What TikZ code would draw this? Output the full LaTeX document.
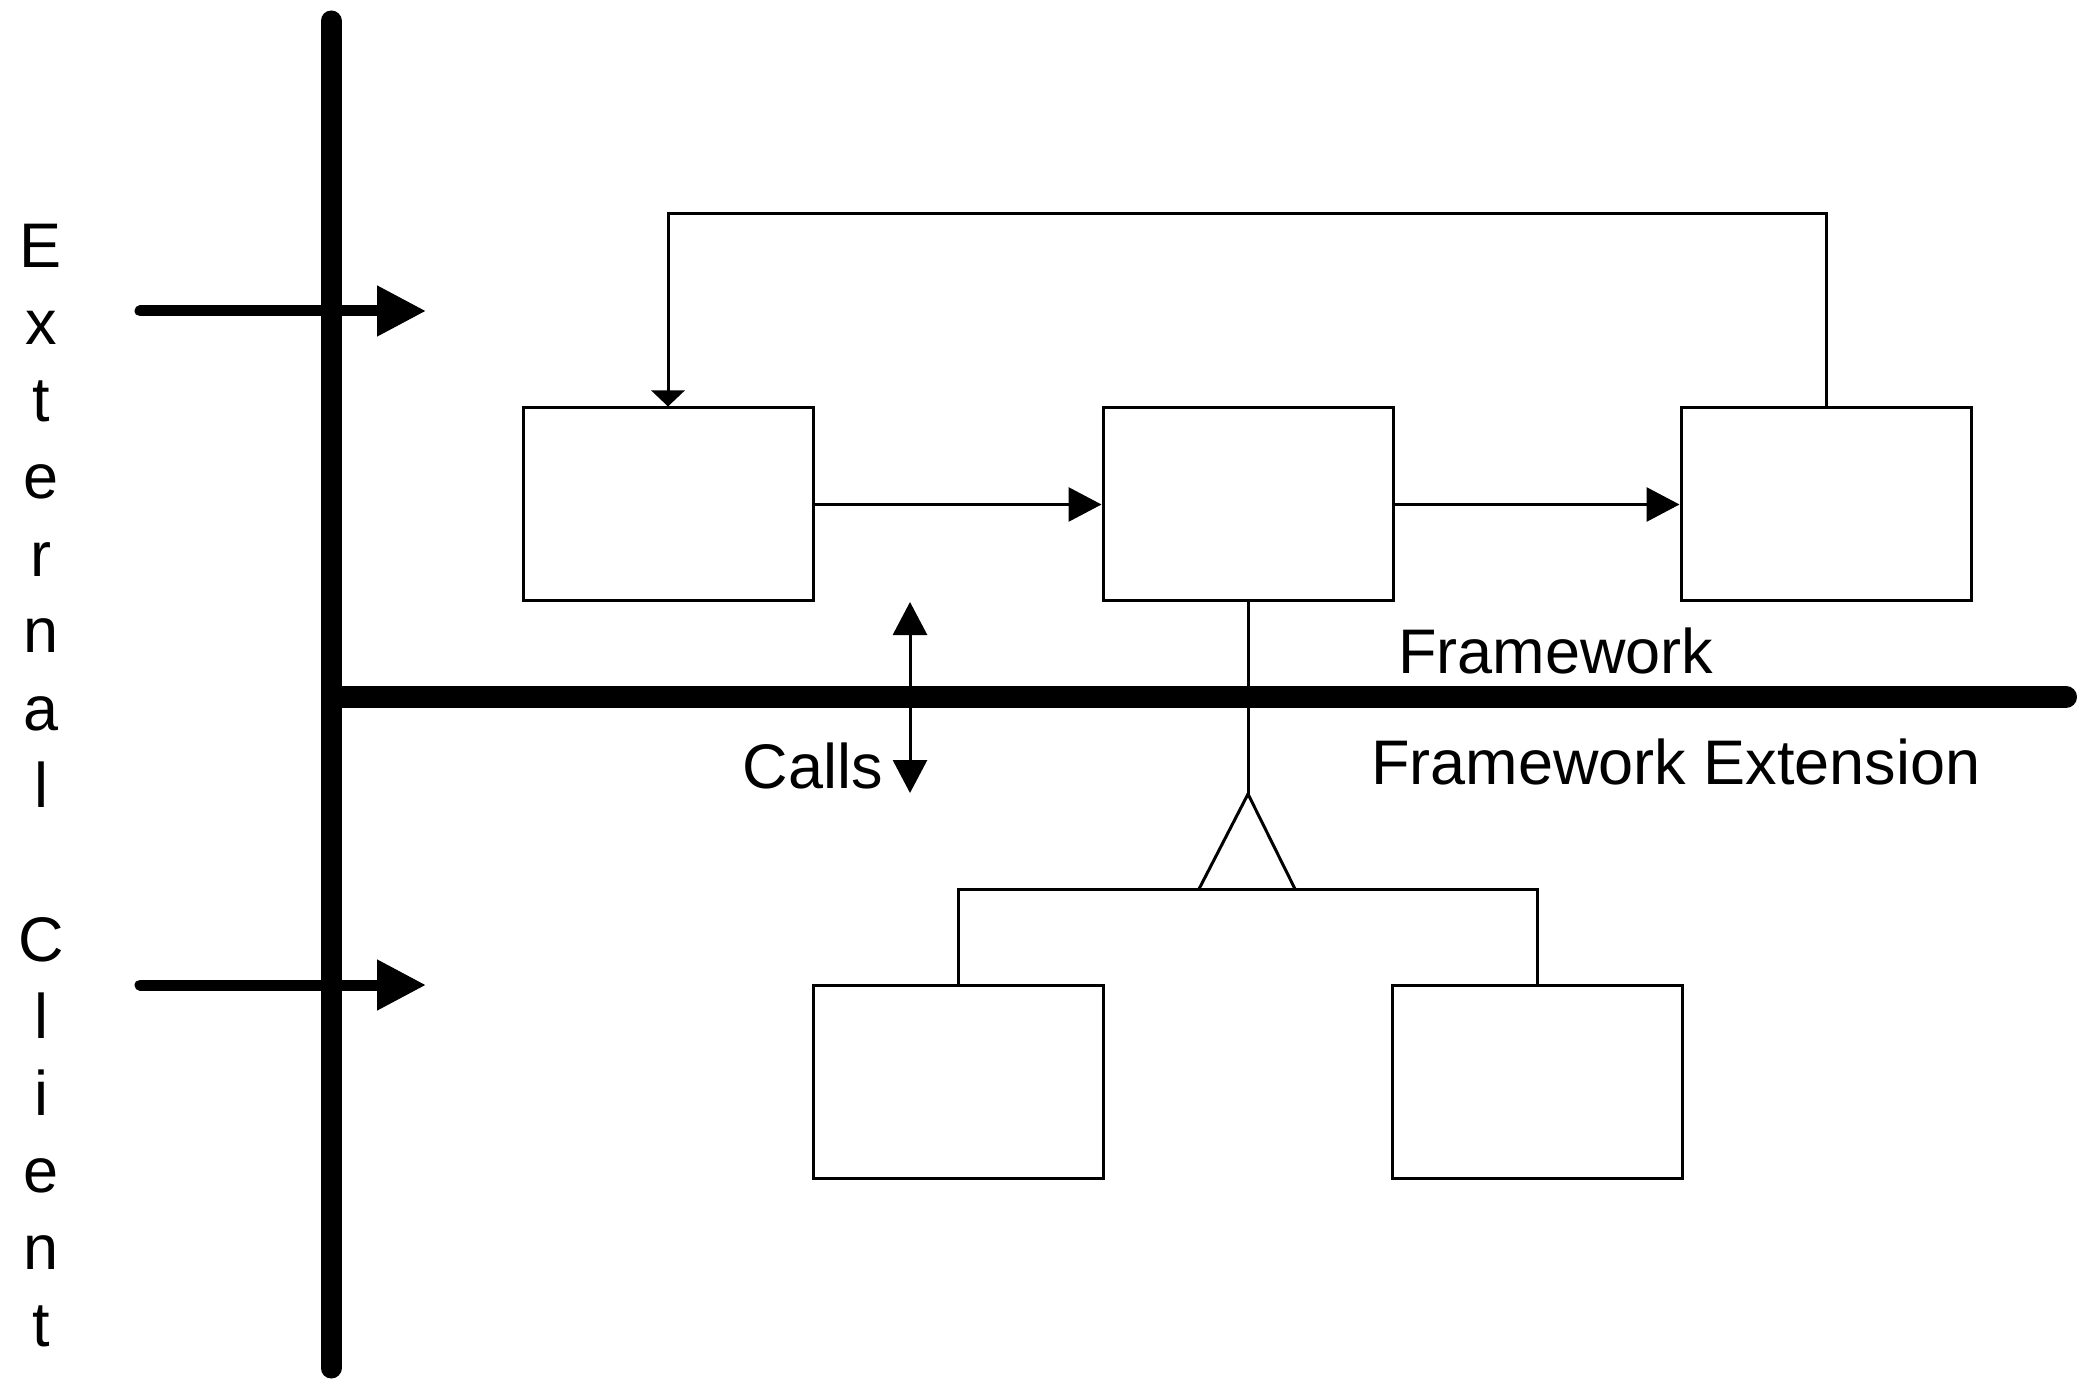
\documentclass[tikz,border=0pt]{standalone}
\usepackage{fontspec}
\setmainfont{Liberation Sans}
\usetikzlibrary{arrows.meta}
\begin{document}
\begin{tikzpicture}[x=0.5pt,y=-0.5pt,
  box/.style={draw, line width=1.5pt, minimum width=145pt, minimum height=96.5pt, inner sep=0pt},
  thinline/.style={line width=1.5pt},
  bigline/.style={line width=10.5pt, line cap=round},
  extarrow/.style={line width=5.5pt, line cap=round, -{Triangle[length=24.5pt,width=24pt]}},
  flowarrow/.style={thinline, -{Triangle[length=16.5pt,width=17pt]}},
  lbl/.style={font=\fontsize{31.5pt}{37pt}\selectfont, inner sep=0pt, anchor=base}]
\useasboundingbox (0,0) rectangle (2077,1379);
\fill[white] (0,0) rectangle (2077,1379);

% boxes
\node[box] (b1) at (668,504.5) {};
\node[box] (b2) at (1248,504.5) {};
\node[box] (b3) at (1826,504.5) {};
\node[box] (b4) at (958,1081.5) {};
\node[box] (b5) at (1537,1081.5) {};

% thick boundary lines
\coordinate (vtop) at (331,21);
\coordinate (vbot) at (331,1368);
\coordinate (hleft) at (336,697);
\coordinate (hright) at (2066,697);
\draw[bigline] (vtop) -- (vbot);
\draw[bigline, line width=11pt] (hleft) -- (hright);

% external client arrows
\coordinate (e1s) at (140,311); \coordinate (e1e) at (426,311);
\coordinate (e2s) at (140,985); \coordinate (e2e) at (426,985);
\draw[extarrow] (e1s) -- (e1e);
\draw[extarrow] (e2s) -- (e2e);

% flow between framework boxes
\draw[flowarrow] (b1.east) -- (b2.west);
\draw[flowarrow] (b2.east) -- (b3.west);
\coordinate (fbtop) at (1248,214);
\draw[thinline, -{Triangle[length=8pt,width=16.5pt]}] (b3.north) |- (fbtop) -| (b1.north);

% calls
\coordinate (cup) at (910,602);
\coordinate (cdown) at (910,793);
\draw[thinline, {Triangle[length=16.5pt,width=17pt]}-{Triangle[length=16.5pt,width=17pt]}] (cup) -- (cdown);
\node[lbl, anchor=base east] (calls) at (883,788) {Calls};

% inheritance
\coordinate (apex) at (1248,794);
\coordinate (tl) at (1199,889);
\coordinate (tr) at (1295,889);
\draw[thinline] (b2.south) -- (apex);
\draw[thinline] (tl) -- (apex) -- (tr);
\draw[thinline] (b4.north) |- (tl) -- (tr) -| (b5.north);

% labels
\node[lbl, anchor=base west] (fw) at (1398,673) {Framework};
\node[lbl, anchor=base west] (fwx) at (1371,784) {Framework Extension};

\foreach \ch [count=\i] in {E,x,t,e,r,n,a,l}
  \node[lbl] (ext\i) at (41,191+77*\i) {\ch};
\foreach \ch [count=\i] in {C,l,i,e,n,t}
  \node[lbl] (cli\i) at (41,884+77*\i) {\ch};
\end{tikzpicture}
\end{document}
